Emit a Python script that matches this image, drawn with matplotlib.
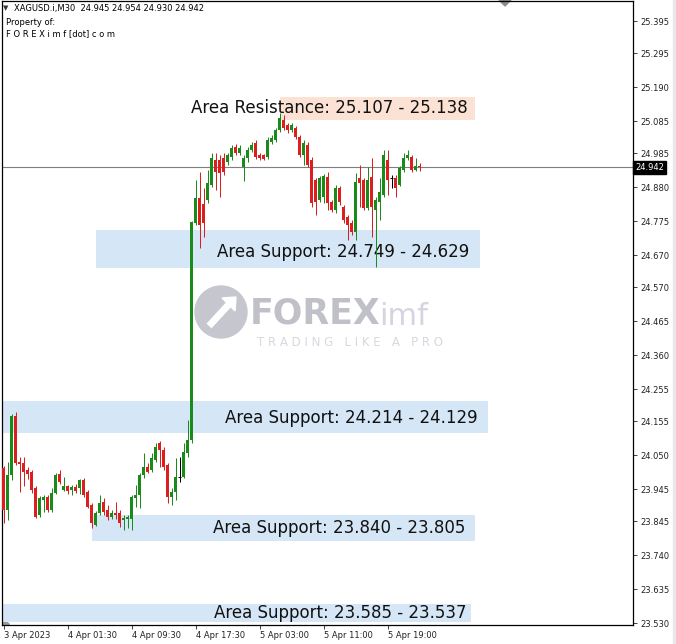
import matplotlib
matplotlib.use('Agg')
import matplotlib.pyplot as plt
from matplotlib.patches import Rectangle, Circle, Polygon
from matplotlib.transforms import blended_transform_factory

# ---------------- data ----------------
header = "XAGUSD.i,M30  24.945 24.954 24.930 24.942"
current_price = 24.942

opens = [24.010, 23.880, 23.989, 24.171, 24.029, 24.026, 24.004, 23.998, 23.948, 23.865,
         23.911, 23.920, 23.880, 23.933, 23.992, 23.942, 23.955, 23.942, 23.951, 23.948,
         23.973, 23.936, 23.896, 23.834, 23.871, 23.905, 23.880, 23.858, 23.871, 23.871,
         23.849, 23.852, 23.852, 23.917, 23.927, 23.989, 24.013, 24.004, 24.035, 24.088,
         24.066, 24.020, 23.920, 23.936, 23.983, 23.983, 24.057, 24.097, 24.769, 24.847,
         24.828, 24.840, 24.887, 24.964, 24.964, 24.971, 24.958, 24.974, 25.005, 24.986,
         24.943, 24.971, 24.995, 25.017, 24.980, 24.980, 24.974, 25.020, 25.026, 25.057,
         25.088, 25.073, 25.057, 25.064, 25.036, 24.980, 25.011, 24.964, 24.902, 24.840,
         24.850, 24.912, 24.834, 24.810, 24.878, 24.819, 24.788, 24.769, 24.741, 24.909,
         24.902, 24.816, 24.912, 24.810, 24.834, 24.856, 24.964, 24.909, 24.909, 24.887,
         24.933, 24.971, 24.974, 24.933, 24.945]
highs = [24.015, 24.029, 24.178, 24.184, 24.044, 24.044, 24.013, 24.004, 23.955, 23.925,
         23.927, 23.927, 23.948, 23.995, 24.004, 23.983, 23.958, 23.958, 23.962, 23.976,
         23.980, 23.942, 23.902, 23.877, 23.927, 23.917, 23.896, 23.880, 23.905, 23.880,
         23.865, 23.865, 23.927, 23.958, 23.995, 24.057, 24.026, 24.057, 24.088, 24.094,
         24.075, 24.026, 23.948, 24.041, 24.044, 24.088, 24.159, 24.775, 24.902, 24.927,
         24.878, 24.933, 24.986, 24.986, 24.980, 24.986, 24.986, 25.011, 25.014, 25.011,
         24.980, 25.005, 25.020, 25.026, 24.986, 24.983, 25.036, 25.042, 25.064, 25.110,
         25.104, 25.080, 25.080, 25.070, 25.042, 25.026, 25.020, 24.974, 24.909, 24.915,
         24.921, 24.927, 24.840, 24.887, 24.884, 24.825, 24.794, 24.779, 24.924, 24.949,
         24.909, 24.943, 24.971, 24.850, 24.909, 24.995, 24.995, 24.918, 24.918, 24.946,
         24.986, 24.995, 24.980, 24.971, 24.954]
lows = [23.840, 23.849, 23.973, 24.020, 23.936, 23.955, 23.975, 23.932, 23.855, 23.858,
        23.874, 23.874, 23.874, 23.930, 23.962, 23.940, 23.930, 23.927, 23.933, 23.930,
        23.920, 23.886, 23.824, 23.830, 23.865, 23.865, 23.849, 23.852, 23.852, 23.827,
        23.818, 23.824, 23.818, 23.889, 23.886, 23.980, 23.995, 23.998, 24.029, 24.013,
        24.004, 23.902, 23.896, 23.911, 23.967, 23.980, 24.044, 24.088, 24.763, 24.692,
        24.726, 24.830, 24.880, 24.871, 24.850, 24.918, 24.949, 24.964, 24.980, 24.980,
        24.900, 24.958, 24.989, 24.968, 24.964, 24.964, 24.968, 25.014, 25.020, 25.051,
        25.057, 25.048, 25.051, 25.030, 24.974, 24.949, 24.943, 24.819, 24.794, 24.834,
        24.830, 24.810, 24.803, 24.800, 24.825, 24.770, 24.717, 24.732, 24.717, 24.819,
        24.810, 24.810, 24.726, 24.633, 24.779, 24.850, 24.856, 24.878, 24.850, 24.884,
        24.927, 24.964, 24.927, 24.930, 24.930]
closes = [23.880, 23.989, 24.171, 24.026, 24.023, 23.998, 23.992, 23.942, 23.860, 23.917,
          23.920, 23.880, 23.933, 23.989, 23.967, 23.955, 23.940, 23.951, 23.940, 23.973,
          23.927, 23.889, 23.840, 23.871, 23.902, 23.874, 23.858, 23.871, 23.865, 23.840,
          23.855, 23.858, 23.920, 23.927, 23.989, 24.013, 23.998, 24.041, 24.075, 24.066,
          24.013, 23.920, 23.936, 23.983, 23.983, 24.060, 24.097, 24.772, 24.847, 24.763,
          24.769, 24.893, 24.971, 24.927, 24.924, 24.927, 24.980, 25.002, 24.986, 25.002,
          24.971, 24.995, 25.011, 24.974, 24.971, 24.968, 25.026, 25.033, 25.057, 25.095,
          25.064, 25.057, 25.073, 25.036, 24.980, 25.017, 24.949, 24.831, 24.834, 24.909,
          24.915, 24.831, 24.810, 24.878, 24.834, 24.779, 24.763, 24.741, 24.896, 24.893,
          24.816, 24.902, 24.819, 24.840, 24.865, 24.980, 24.902, 24.909, 24.878, 24.940,
          24.971, 24.980, 24.933, 24.946, 24.942]

time_tick_idx = [0, 16, 32, 48, 64, 80, 96]
time_tick_labels = ["3 Apr 2023", "4 Apr 01:30", "4 Apr 09:30", "4 Apr 17:30",
                    "5 Apr 03:00", "5 Apr 11:00", "5 Apr 19:00"]
price_ticks = [25.395, 25.295, 25.190, 25.085, 24.985, 24.880, 24.775, 24.670, 24.570,
               24.465, 24.360, 24.255, 24.155, 24.050, 23.945, 23.845, 23.740, 23.635, 23.530]

zone_labels = ["Area Resistance: 25.107 - 25.138", "Area Support: 24.749 - 24.629",
               "Area Support: 24.214 - 24.129", "Area Support: 23.840 - 23.805",
               "Area Support: 23.585 - 23.537"]
zone_kind = ["res", "sup", "sup", "sup", "sup"]
zone_hi = [25.160, 24.749, 24.218, 23.865, 23.589]
zone_lo = [25.088, 24.629, 24.119, 23.784, 23.533]
zone_start = [69.2, 23.0, -0.4, 22.0, -0.4]
zone_end = [117.8, 119.0, 121.0, 117.8, 116.8]
zone_text_x = [81.4, 85.0, 87.0, 84.0, 84.1]
zone_text_y = [25.125, 24.680, 24.166, 23.824, 23.560]

# ---------------- style ----------------
GREEN = '#1a8a1a'
RED = '#dc1e1e'
BLUE_ZONE = '#d5e7f7'
PEACH_ZONE = '#fbe2d4'

W, H = 676, 644
fig = plt.figure(figsize=(W / 100, H / 100), dpi=100)
fig.patch.set_facecolor('white')

bg = fig.add_axes([0, 0, 1, 1], zorder=0)
bg.set_xlim(0, W)
bg.set_ylim(H, 0)
bg.axis('off')

ax = fig.add_axes([2 / W, 19 / H, 631 / W, 624 / H], zorder=1)
ax.set_facecolor('none')
ax.set_xlim(-0.375, 157.375)
ax.set_ylim(23.524, 25.457)

# zones
for lab, kind, hi, lo, x0, x1, tx, ty in zip(zone_labels, zone_kind, zone_hi, zone_lo,
                                              zone_start, zone_end, zone_text_x, zone_text_y):
    col = PEACH_ZONE if kind == "res" else BLUE_ZONE
    ax.add_patch(Rectangle((x0, lo), x1 - x0, hi - lo, facecolor=col, edgecolor='none', zorder=1))
    ax.text(tx, ty, lab, ha='center', va='center', fontsize=12, color='#111111',
            family='DejaVu Sans', zorder=2)

# current price line
ax.axhline(current_price, color='#7f7f7f', lw=0.8, zorder=2)

# candles
minh = 0.0035
for i, (o, h, l, c) in enumerate(zip(opens, highs, lows, closes)):
    if c > o:
        col = GREEN
    elif c < o:
        col = RED
    else:
        col = 'black'
    ax.vlines(i, l, h, color=col, lw=0.72, zorder=3)
    bottom = min(o, c)
    height = max(abs(c - o), minh)
    if c == o:
        ax.hlines(o, i - 0.375, i + 0.375, color='black', lw=0.72, zorder=3)
    else:
        ax.bar(i, height, bottom=bottom, width=0.75, color=col, linewidth=0, zorder=3)

# axes styling
for s in ax.spines.values():
    s.set_color('black')
    s.set_linewidth(0.9)
ax.yaxis.tick_right()
ax.set_yticks(price_ticks)
ax.set_yticklabels([f"{p:.3f}" for p in price_ticks])
ax.tick_params(axis='y', direction='out', length=3, width=0.6, labelsize=6, pad=2,
               colors='#222222')
ax.set_xticks(time_tick_idx)
ax.set_xticklabels(time_tick_labels)
ax.tick_params(axis='x', direction='out', length=3, width=0.6, labelsize=6, pad=1,
               colors='#222222')
for lbl in ax.get_xticklabels():
    lbl.set_ha('left')

# current price label
trans = blended_transform_factory(ax.transAxes, ax.transData)
ax.text(1.003, current_price, f"{current_price:.3f}", transform=trans, fontsize=6,
        color='white', va='center', ha='left', zorder=5, clip_on=False,
        bbox=dict(boxstyle='square,pad=0.25', fc='black', ec='black'))

# header texts
bg.text(3, 8, "\u25BC", fontsize=5, color='#333333', va='center', ha='left')
bg.text(14, 8, header, fontsize=6, color='black', va='center', ha='left')
bg.text(6, 22, "Property of:", fontsize=6, color='black', va='center', ha='left')
bg.text(6, 34, "F O R E X i m f [dot] c o m", fontsize=6, color='black', va='center', ha='left')

# little markers
bg.add_patch(Polygon([(499, 0), (511, 0), (505, 6)], closed=True, color='#8c8c8c'))
bg.add_patch(Polygon([(3, 618), (3, 624), (9, 624)], closed=True, color='#9a9a9a'))
bg.add_patch(Rectangle((673, 0), 3, H, color='#e8e8e8'))

# watermark
bg.add_patch(Circle((221, 312), 26, color='#c6c6ce', zorder=1))
bg.plot([209, 231], [326, 302], color='white', lw=5, solid_capstyle='butt', zorder=2)
bg.add_patch(Polygon([(222, 298), (236, 297), (235, 311)], closed=True, color='white', zorder=2))
bg.text(250, 313, "FOREX", fontsize=25, fontweight='bold', color='#c0c0c8', va='center',
        ha='left', zorder=1)
bg.text(379, 316, "imf", fontsize=22, color='#d4d4e2', va='center', ha='left', zorder=1)
bg.text(350, 342, "T R A D I N G   L I K E   A   P R O", fontsize=8.5, color='#d8d8e0',
        va='center', ha='center', zorder=1)

fig.savefig('out.png', dpi=100, facecolor='white')
